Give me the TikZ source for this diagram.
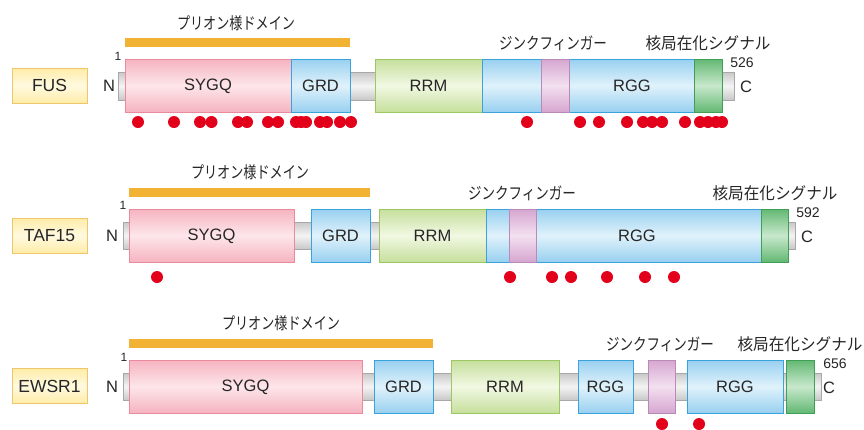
\documentclass[tikz,border=0pt]{standalone}
\usepackage{fontspec}
\setmainfont{Liberation Sans}
\newfontfamily\jpfont{Noto Sans CJK JP}
\usepackage{graphicx}
\definecolor{pinkB}{HTML}{E98B9C}\definecolor{pinkE}{HTML}{F6B3C0}\definecolor{pinkM}{HTML}{FDE6EA}
\definecolor{blueB}{HTML}{3BA3DC}\definecolor{blueE}{HTML}{98D0F0}\definecolor{blueM}{HTML}{E0F2FB}
\definecolor{grnB}{HTML}{9CC763}\definecolor{grnE}{HTML}{C6DF9C}\definecolor{grnM}{HTML}{F1F8E3}
\definecolor{zfB}{HTML}{B98AB8}\definecolor{zfE}{HTML}{D6A6D0}\definecolor{zfM}{HTML}{F3E0F0}
\definecolor{nlsB}{HTML}{3E9F55}\definecolor{nlsE}{HTML}{63B873}\definecolor{nlsM}{HTML}{C8E8CC}
\definecolor{grayB}{HTML}{A8A8A8}\definecolor{grayE}{HTML}{C8C8C8}\definecolor{grayM}{HTML}{F4F4F4}
\definecolor{labB}{HTML}{F1C56A}\definecolor{labE}{HTML}{FFEDA8}\definecolor{labM}{HTML}{FFF9E0}
\definecolor{barC}{HTML}{F2B233}
\definecolor{dotC}{HTML}{E3001B}
\definecolor{txt}{HTML}{262626}
\newcommand\segbox[5]{\path[#1] (#2,#4) rectangle (#3,#5);}
\newcommand\jpw[2]{\resizebox{#1}{\height}{\jpfont #2}}
\tikzset{
  pinkbox/.style={draw=pinkB, line width=0.9pt, top color=pinkE, bottom color=pinkE, middle color=pinkM},
  bluebox/.style={draw=blueB, line width=0.9pt, top color=blueE, bottom color=blueE, middle color=blueM},
  grnbox/.style={draw=grnB, line width=0.9pt, top color=grnE, bottom color=grnE, middle color=grnM},
  zfbox/.style={draw=zfB, line width=0.9pt, top color=zfE, bottom color=zfE, middle color=zfM},
  nlsbox/.style={draw=nlsB, line width=0.9pt, top color=nlsE, bottom color=nlsE, middle color=nlsM},
  graybox/.style={draw=grayB, line width=0.8pt, top color=grayE, bottom color=grayE, middle color=grayM},
  barbox/.style={fill=barC},
  namebox/.style={draw=labB, line width=1pt, top color=labE, bottom color=labE, middle color=labM,
    minimum width=75pt, minimum height=35pt, inner sep=0pt, text=txt,
    font=\fontsize{17.5}{20}\selectfont},
  dlab/.style={text=txt, inner sep=0pt, font=\fontsize{16.5}{19}\selectfont},
  numlab/.style={text=txt, inner sep=0pt, font=\fontsize{14}{16}\selectfont},
  onelab/.style={text=txt, inner sep=0pt, font=\fontsize{12}{14}\selectfont},
  jplab/.style={text=txt, inner sep=0pt, font=\fontsize{16.5}{19}\selectfont},
  dot/.style={fill=dotC},
}
\begin{document}
\begin{tikzpicture}[x=1pt,y=-1pt]
\useasboundingbox[fill=white] (0,0) rectangle (864,429);

% ================= FUS =================
\node[namebox] (fus) at (49.5,85.5) {FUS};
\node[dlab] (fusN) at (109,86) {N};
\node[onelab] (fus1) at (118,56) {1};
\segbox{barbox}{125}{350}{38}{47}
\node[jplab] (fusprion) at (236,23) {\jpw{118pt}{プリオン様ドメイン}};
\segbox{graybox}{118}{734}{72}{100}
\segbox{pinkbox}{125}{291}{59}{112}
\segbox{bluebox}{291}{350}{59}{112}
\segbox{grnbox}{375}{482}{59}{112}
\segbox{bluebox}{482}{694}{59}{112}
\segbox{zfbox}{541}{569}{59}{112}
\segbox{nlsbox}{694}{722}{59}{112}
\node[dlab] (fussygq) at (208,86) {SYGQ};
\node[dlab] (fusgrd) at (320.5,86) {GRD};
\node[dlab] (fusrrm) at (428.5,86) {RRM};
\node[dlab] (fusrgg) at (632,86) {RGG};
\node[numlab] (fusend) at (742,63) {526};
\node[dlab] (fusC) at (746,87) {C};
\node[jplab] (fuszf) at (553,43) {\jpw{108pt}{ジンクフィンガー}};
\node[jplab] (fusnls) at (708,43) {\jpw{125pt}{核局在化シグナル}};
\foreach \x in {138,174,200,211.5,238,247,268,278,296,301,306,320,327,340,351,527,580,599,627,643,652,662,685,700,708,716,722}
  \fill[dot] (\x,122) circle (6pt);

% ================= TAF15 =================
\node[namebox] (taf) at (49.5,235.5) {TAF15};
\node[dlab] (tafN) at (112,236) {N};
\node[onelab] (taf1) at (123,205) {1};
\segbox{barbox}{129}{370}{188}{197}
\node[jplab] (tafprion) at (250,172) {\jpw{118pt}{プリオン様ドメイン}};
\segbox{graybox}{123}{795}{222}{249}
\segbox{pinkbox}{129}{294}{209}{262}
\segbox{bluebox}{311}{370}{209}{262}
\segbox{grnbox}{379}{486}{209}{262}
\segbox{bluebox}{486}{761}{209}{262}
\segbox{zfbox}{509}{536}{209}{262}
\segbox{nlsbox}{761}{788}{209}{262}
\node[dlab] (tafsygq) at (211.5,236) {SYGQ};
\node[dlab] (tafgrd) at (340.5,236) {GRD};
\node[dlab] (tafrrm) at (432.5,236) {RRM};
\node[dlab] (tafrgg) at (637,236) {RGG};
\node[numlab] (tafend) at (808,213) {592};
\node[dlab] (tafC) at (807,237) {C};
\node[jplab] (tafzf) at (522,193) {\jpw{108pt}{ジンクフィンガー}};
\node[jplab] (tafnls) at (775,193) {\jpw{125pt}{核局在化シグナル}};
\foreach \x in {157,510,552,571,607,645,674}
  \fill[dot] (\x,277) circle (6pt);

% ================= EWSR1 =================
\node[namebox] (ews) at (49.5,386) {EWSR1};
\node[dlab] (ewsN) at (112,387) {N};
\node[onelab] (ews1) at (124,357) {1};
\segbox{barbox}{129}{433}{339}{348}
\node[jplab] (ewsprion) at (281,323) {\jpw{118pt}{プリオン様ドメイン}};
\segbox{graybox}{123}{821}{373}{400}
\segbox{pinkbox}{129}{362}{360}{413}
\segbox{bluebox}{374}{433}{360}{413}
\segbox{grnbox}{451}{559}{360}{413}
\segbox{bluebox}{578}{633}{360}{413}
\segbox{zfbox}{648}{675}{360}{413}
\segbox{bluebox}{687}{783}{360}{413}
\segbox{nlsbox}{786}{814}{360}{413}
\node[dlab] (ewssygq) at (245.5,387) {SYGQ};
\node[dlab] (ewsgrd) at (403.5,387) {GRD};
\node[dlab] (ewsrrm) at (505,387) {RRM};
\node[dlab] (ewsrgga) at (605.5,387) {RGG};
\node[dlab] (ewsrggb) at (735,387) {RGG};
\node[numlab] (ewsend) at (835,364) {656};
\node[dlab] (ewsC) at (829,388) {C};
\node[jplab] (ewszf) at (660,344) {\jpw{108pt}{ジンクフィンガー}};
\node[jplab] (ewsnls) at (800,344) {\jpw{125pt}{核局在化シグナル}};
\foreach \x in {662,699}
  \fill[dot] (\x,424) circle (6pt);
\end{tikzpicture}
\end{document}
